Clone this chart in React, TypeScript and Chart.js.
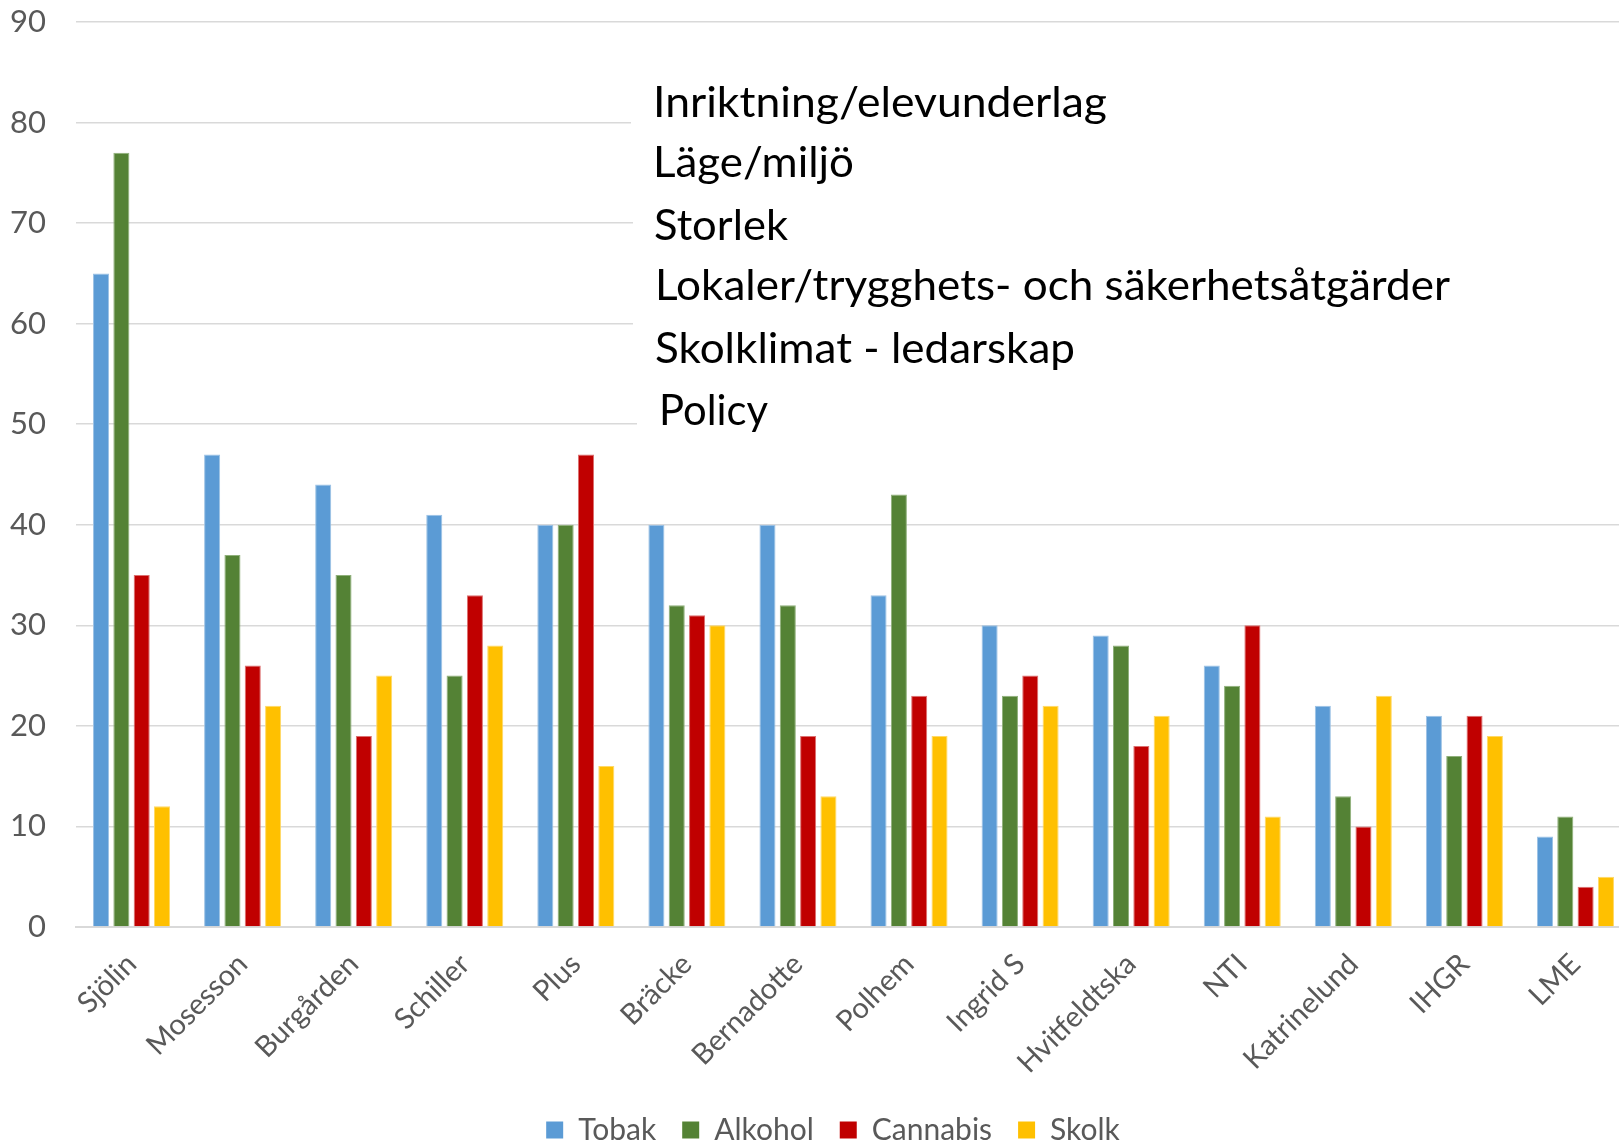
import React, { useEffect, useRef } from "react";
import { Chart, registerables } from "chart.js";

Chart.register(...registerables);

const categories = [
  "Sjölin", "Mosesson", "Burgården", "Schiller", "Plus", "Bräcke", "Bernadotte",
  "Polhem", "Ingrid S", "Hvitfeldtska", "NTI", "Katrinelund", "IHGR", "LME",
];
const tobak = [65, 47, 44, 41, 40, 40, 40, 33, 30, 29, 26, 22, 21, 9];
const alkohol = [77, 37, 35, 25, 40, 32, 32, 43, 23, 28, 24, 13, 17, 11];
const cannabis = [35, 26, 19, 33, 47, 31, 19, 23, 25, 18, 30, 10, 21, 4];
const skolk = [12, 22, 25, 28, 16, 30, 13, 19, 22, 21, 11, 23, 19, 5];
const seriesNames = ["Tobak", "Alkohol", "Cannabis", "Skolk"];
const yTicks = [0, 10, 20, 30, 40, 50, 60, 70, 80, 90];

const overlayLines = [
  "Inriktning/elevunderlag",
  "Läge/miljö",
  "Storlek",
  "Lokaler/trygghets- och säkerhetsåtgärder",
  "Skolklimat - ledarskap",
  "Policy",
];

// layout of the overlay text boxes (x, baseline, fitted width) and their white backgrounds
const overlayLayout = [
  { x: 653, base: 117, w: 454, bx: 631, by: 75, bh: 78 },
  { x: 653, base: 177, w: 201, bx: 631, by: 153, bh: 47 },
  { x: 654, base: 240, w: 134, bx: 633, by: 200, bh: 65 },
  { x: 655, base: 300, w: 795, bx: 633, by: 265, bh: 65 },
  { x: 655, base: 363, w: 420, bx: 635, by: 330, bh: 60 },
  { x: 659, base: 425, w: 109, bx: 637, by: 390, bh: 50 },
];

const FONT = "Lato, 'Open Sans', sans-serif";
const TEXT_GREY = "#595959";

const overlayPlugin = {
  id: "overlayText",
  afterDraw(chart: any) {
    const ctx = chart.ctx as CanvasRenderingContext2D;
    ctx.save();
    overlayLayout.forEach((b) => {
      ctx.fillStyle = "#ffffff";
      ctx.fillRect(b.bx, b.by, chart.width - b.bx, b.bh);
    });
    ctx.font = `43px ${FONT}`;
    ctx.fillStyle = "#000000";
    ctx.textBaseline = "alphabetic";
    ctx.textAlign = "left";
    overlayLines.forEach((t, i) => {
      const b = overlayLayout[i];
      const mw = ctx.measureText(t).width;
      ctx.save();
      ctx.translate(b.x, b.base);
      ctx.scale(b.w / mw, 1);
      ctx.fillText(t, 0, 0);
      ctx.restore();
    });
    ctx.restore();
  },
};

export default function App() {
  const ref = useRef<HTMLCanvasElement | null>(null);

  useEffect(() => {
    if (!ref.current) return;
    const colors = ["#5B9BD5", "#548235", "#C00000", "#FFC000"];
    const borders = ["#9CC2E5", "#8FB07A", "#DC7070", "#FFD966"];
    const values = [tobak, alkohol, cannabis, skolk];
    const chart = new Chart(ref.current, {
      type: "bar",
      data: {
        labels: categories,
        datasets: values.map((v, i) => ({
          label: seriesNames[i],
          data: v,
          backgroundColor: colors[i],
          borderColor: borders[i],
          borderWidth: 1,
          categoryPercentage: 0.732,
          barPercentage: 0.79,
          yAxisID: "y",
        })),
      },
      options: {
        responsive: false,
        animation: false,
        devicePixelRatio: 1,
        layout: { padding: { top: 22, left: 0, right: 0, bottom: 0 } },
        plugins: {
          tooltip: { enabled: false },
          legend: {
            position: "bottom",
            labels: {
              boxWidth: 17,
              boxHeight: 17,
              padding: 26,
              color: TEXT_GREY,
              font: { family: FONT, size: 30 },
              generateLabels: (c: any) =>
                (Chart.defaults.plugins.legend.labels as any)
                  .generateLabels(c)
                  .map((l: any) => ({ ...l, lineWidth: 0, strokeStyle: l.fillStyle })),
            },
          },
        },
        scales: {
          x: {
            grid: { display: false },
            border: { display: true, color: "#D9D9D9", width: 2 },
            ticks: {
              color: TEXT_GREY,
              font: { family: FONT, size: 29 },
              minRotation: 45,
              maxRotation: 45,
              autoSkip: false,
              padding: 12,
            },
            afterFit: (s: any) => {
              s.height = 162;
            },
          },
          y: {
            min: 0,
            max: 90,
            afterBuildTicks: (s: any) => {
              s.ticks = yTicks.map((v) => ({ value: v }));
            },
            grid: { color: "#D9D9D9", lineWidth: 1.5, drawTicks: false },
            border: { display: false },
            ticks: {
              color: TEXT_GREY,
              font: { family: FONT, size: 31 },
              padding: 30,
            },
            afterFit: (s: any) => {
              s.width = 76;
              s.paddingTop = 0;
              s.paddingBottom = 0;
            },
          },
          yPad: {
            type: "linear",
            position: "right",
            display: true,
            grid: { display: false },
            border: { display: false },
            ticks: { display: false },
            afterFit: (s: any) => {
              s.width = 35;
              s.paddingTop = 0;
              s.paddingBottom = 0;
            },
          },
        },
      },
      plugins: [overlayPlugin],
    } as any);
    return () => chart.destroy();
  }, []);

  return (
    <div
      style={{
        position: "fixed",
        left: 0,
        top: 0,
        width: 1619,
        height: 1142,
        overflow: "hidden",
        background: "#ffffff",
      }}
    >
      <canvas
        ref={ref}
        width={1666}
        height={1155}
        style={{ display: "block", width: 1666, height: 1155 }}
      />
    </div>
  );
}
